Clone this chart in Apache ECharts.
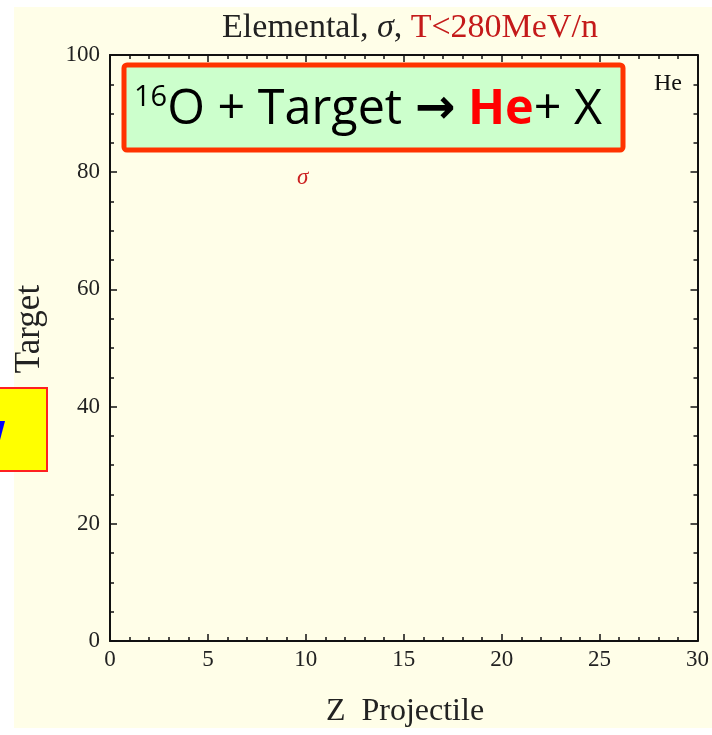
<!DOCTYPE html>
<html><head><meta charset="utf-8">
<script src="https://cdn.jsdelivr.net/npm/echarts@6/dist/echarts.min.js"></script>
<style>html,body{margin:0;padding:0;background:#fff}#c{width:712px;height:735px}</style>
</head><body><div id="c"></div>
<script>
var xRange = [0, 30];
var yRange = [0, 100];
var xTicks = [0, 5, 10, 15, 20, 25, 30];
var yTicks = [0, 20, 40, 60, 80, 100];
var points = []; // no data points drawn in the reference
var serif = '"Liberation Serif","DejaVu Serif",serif';
var sans = '"Open Sans","Liberation Sans",sans-serif';
var chart = echarts.init(document.getElementById('c'));
function axisCommon(showLabel) {
  return {
    axisLine: {show: true, onZero: false, lineStyle: {color: '#111', width: 2}},
    axisTick: {show: true, inside: true, length: 7, lineStyle: {color: '#111', width: 1.5}},
    minorTick: {show: true, length: 4, lineStyle: {color: '#111', width: 1.5}},
    splitLine: {show: false},
    axisLabel: {show: showLabel, color: '#222', fontFamily: serif, fontSize: 23}
  };
}
var xb = Object.assign(axisCommon(true), {type: 'value', position: 'bottom', min: xRange[0], max: xRange[1], interval: 5});
xb.minorTick.splitNumber = 5;
xb.axisLabel.margin = 7;
var xt = Object.assign(axisCommon(false), {type: 'value', position: 'top', min: xRange[0], max: xRange[1], interval: 5});
xt.minorTick.splitNumber = 5;
var yl = Object.assign(axisCommon(true), {type: 'value', position: 'left', min: yRange[0], max: yRange[1], interval: 20});
yl.minorTick.splitNumber = 4;
yl.axisLabel.margin = 10;
var yr = Object.assign(axisCommon(false), {type: 'value', position: 'right', min: yRange[0], max: yRange[1], interval: 20});
yr.minorTick.splitNumber = 4;
chart.setOption({
  backgroundColor: '#ffffff',
  animation: false,
  grid: {left: 110, right: 12, top: 55, bottom: 94, containLabel: false},
  xAxis: [xb, xt],
  yAxis: [yl, yr],
  title: {
    text: '{k|Elemental, }{s|σ}{k|, }{r|T<280MeV/n}',
    left: 405, top: 6, textAlign: 'center',
    textStyle: {rich: {
      k: {fontFamily: serif, fontSize: 34, color: '#222', fontWeight: 'normal'},
      s: {fontFamily: serif, fontSize: 34, color: '#222', fontStyle: 'italic', fontWeight: 'normal'},
      r: {fontFamily: serif, fontSize: 34, color: '#c41a1a', fontWeight: 'normal'}
    }}
  },
  series: [{type: 'scatter', data: points, xAxisIndex: 0, yAxisIndex: 0}],
  graphic: {elements: [
    {type: 'rect', z: -100, silent: true, shape: {x: 14, y: 7, width: 698, height: 721}, style: {fill: '#fffee8'}},
    {type: 'rect', z: 50, shape: {x: 124, y: 65, width: 499, height: 85, r: 3},
      style: {fill: '#ccffcc', stroke: '#ff3300', lineWidth: 5}},
    {type: 'text', z: 51, left: 134, top: 83, style: {
      text: '{sup|16}{n|O + Target }{a|→}{n| }{he|He}{n|+ X}',
      rich: {
        sup: {fontFamily: sans, fontSize: 29, fill: '#000', verticalAlign: 'top', padding: [0, 0, 26, 0]},
        n: {fontFamily: sans, fontSize: 48.5, fill: '#000'},
        a: {fontFamily: '"DejaVu Sans",sans-serif', fontSize: 48.5, fill: '#000', fontWeight: 'bold'},
        he: {fontFamily: sans, fontSize: 48.5, fill: '#ff0000', fontWeight: 'bold'}
      }}},
    {type: 'text', z: 51, left: 654, top: 72, style: {text: 'He', fontFamily: serif, fontSize: 24, fill: '#111'}},
    {type: 'text', z: 51, left: 297, top: 166, style: {text: 'σ', fontFamily: serif, fontSize: 23, fontStyle: 'italic', fill: '#cc2222'}},
    {type: 'text', z: 51, x: 30, y: 329, rotation: Math.PI / 2, style: {text: 'Target', fontFamily: serif, fontSize: 35, fill: '#222', align: 'center', verticalAlign: 'middle'}},
    {type: 'text', z: 51, x: 405, y: 712, style: {text: 'Z  Projectile', fontFamily: serif, fontSize: 32, fill: '#222', align: 'center', verticalAlign: 'middle'}},
    {type: 'rect', z: 52, shape: {x: -2, y: 388, width: 49, height: 83}, style: {fill: '#ffff00', stroke: '#ff2020', lineWidth: 2}},
    {type: 'polygon', z: 53, shape: {points: [[0, 421], [5, 421], [0, 440]]}, style: {fill: '#0000ff'}}
  ]}
});
</script></body></html>
